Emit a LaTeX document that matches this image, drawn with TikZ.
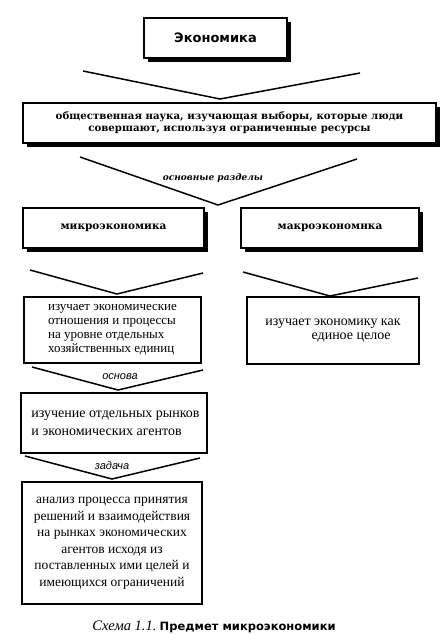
\documentclass[tikz,border=0pt]{standalone}
\usepackage{fontspec}
\setmainfont{Liberation Serif}
\newfontfamily\dsans{DejaVu Sans}
\newfontfamily\dserif{DejaVu Serif}
\newfontfamily\lsans{Liberation Sans}
\usetikzlibrary{shadows}
\tikzset{
  sbox/.style={draw, line width=1.2pt, fill=white, inner sep=0pt,
    drop shadow={shadow xshift=3.5pt, shadow yshift=-3.5pt, fill=black, opacity=1}},
  pbox/.style={draw, line width=1.2pt, fill=white, inner sep=0pt},
  chev/.style={line width=1.5pt, line join=miter},
  lbl/.style={inner sep=0pt, font=\lsans\itshape\fontsize{11}{13}\selectfont},
}
\begin{document}
\begin{tikzpicture}[x=1pt,y=-1pt]
\useasboundingbox (0,0) rectangle (447,635);
\fill[white] (0,0) rectangle (447,635);

\node[sbox, minimum width=143pt, minimum height=40pt] (eco) at (215.5,38)
  {\dsans\bfseries\fontsize{13}{15}\selectfont Экономика};

\node[sbox, minimum width=413pt, minimum height=40pt, align=center,
  font=\dserif\bfseries\fontsize{10.2}{12}\selectfont] (def) at (229.5,123)
  {общественная наука, изучающая выборы, которые люди\\совершают, используя ограниченные ресурсы};

\node[sbox, minimum width=181pt, minimum height=40pt] (micro) at (113.5,228)
  {\dserif\bfseries\fontsize{10.5}{12}\selectfont микроэкономика};
\node[sbox, minimum width=178pt, minimum height=40pt] (macro) at (330,228)
  {\dserif\bfseries\fontsize{10.5}{12}\selectfont макроэкономнка};

\node[pbox, minimum width=177pt, minimum height=66pt, align=left,
  font=\fontsize{13}{14}\selectfont] (microdesc) at (112.5,330)
  {изучает экономические\\отношения и процессы\\на уровне отдельных\\хозяйственных единиц};
\node[pbox, minimum width=172pt, minimum height=67pt, align=left,
  font=\fontsize{14}{14.5}\selectfont] (macrodesc) at (333,330.5)
  {изучает экономику как\\\hspace*{3.3em}единое целое};

\node[pbox, minimum width=186pt, minimum height=60pt, align=left,
  font=\fontsize{14}{18}\selectfont] (basis) at (114,423)
  {\hspace*{3pt}изучение отдельных рынков\\\hspace*{3pt}и экономических агентов};

\node[pbox, minimum width=180pt, minimum height=122pt, align=center,
  font=\fontsize{13.5}{16.5}\selectfont] (task) at (112,543)
  {анализ процесса принятия\\решений и взаимодействия\\на рынках экономических\\агентов исходя из\\поставленных ими целей и\\имеющихся ограничений};

% chevrons
\coordinate (c1a) at (83,71);  \coordinate (c1t) at (220,99);  \coordinate (c1b) at (360,73);
\coordinate (c2a) at (80,157); \coordinate (c2t) at (218,205); \coordinate (c2b) at (357,159);
\coordinate (c3a) at (30,270); \coordinate (c3t) at (117,294); \coordinate (c3b) at (203,273);
\coordinate (c4a) at (243,272);\coordinate (c4t) at (330,296); \coordinate (c4b) at (418,278);
\coordinate (c5a) at (32,367); \coordinate (c5t) at (118,390); \coordinate (c5b) at (203,370);
\coordinate (c6a) at (25,456); \coordinate (c6t) at (112,479); \coordinate (c6b) at (200,458);
\draw[chev] (c1a) -- (c1t) -- (c1b);
\draw[chev] (c2a) -- (c2t) -- (c2b);
\draw[chev] (c3a) -- (c3t) -- (c3b);
\draw[chev] (c4a) -- (c4t) -- (c4b);
\draw[chev] (c5a) -- (c5t) -- (c5b);
\draw[chev] (c6a) -- (c6t) -- (c6b);

\node[inner sep=0pt, font=\dserif\bfseries\itshape\fontsize{9}{11}\selectfont] (l2) at (213,178) {основные разделы};
\node[lbl] (l5) at (120,377) {основа};
\node[lbl] (l6) at (112,466) {задача};

\node[inner sep=0pt] (cap) at (214,627)
  {{\itshape\fontsize{14.5}{16}\selectfont Схема 1.1.} {\dsans\bfseries\fontsize{11.5}{13}\selectfont Предмет микроэкономики}};
\end{tikzpicture}
\end{document}
